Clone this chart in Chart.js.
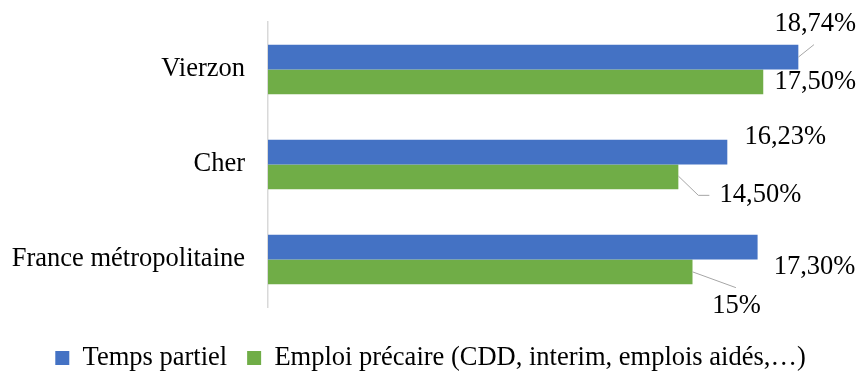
<!DOCTYPE html>
<html lang="fr">
<head>
<meta charset="utf-8">
<title>Temps partiel et emploi précaire</title>
<script src="https://cdn.jsdelivr.net/npm/chart.js@4/dist/chart.umd.min.js"></script>
<style>
  html, body { margin: 0; padding: 0; background: #ffffff; }
  #wrap { width: 861px; height: 372px; }
</style>
</head>
<body>
<div id="wrap"><canvas id="chart" width="861" height="372"></canvas></div>
<script>
// Territoires comparés
const territoires = ['Vierzon', 'Cher', 'France métropolitaine'];

// Part des emplois (%)
const tempsPartiel = [18.74, 16.23, 17.30];
const emploiPrecaire = [17.50, 14.50, 15];

const nomsSeries = ['Temps partiel', 'Emploi précaire (CDD, interim, emplois aidés,…)'];

const FONT = "'Liberation Serif', 'Times New Roman', serif";
const FONT_SIZE = 26.5;

// Placement of each value label relative to the end of its bar,
// with optional leader line points (same relative frame).
const labelLayout = [
  [
    { dx: 17, dy: -33, leader: [[0, 0], [15.6, -12.5]] },
    { dx: 58, dy: -15 },
    { dx: 57, dy: 19.5 }
  ],
  [
    { dx: 52, dy: 0.5 },
    { dx: 82, dy: 18.5, leader: [[0, -0.8], [20, 18.5], [31, 18.5]] },
    { dx: 44, dy: 34.5, leader: [[0, 0], [43.4, 15.8]] }
  ]
];

function formatPct(v) {
  const s = Number.isInteger(v) ? String(v) : v.toFixed(2);
  return s.replace('.', ',') + '%';
}

const valueLabels = {
  id: 'valueLabels',
  afterDatasetsDraw(chart) {
    const ctx = chart.ctx;
    ctx.save();
    chart.data.datasets.forEach((ds, di) => {
      const meta = chart.getDatasetMeta(di);
      meta.data.forEach((bar, i) => {
        const lay = labelLayout[di][i];
        const x0 = bar.x, y0 = bar.y;
        if (lay.leader) {
          ctx.beginPath();
          ctx.strokeStyle = '#a6a6a6';
          ctx.lineWidth = 1;
          lay.leader.forEach(([lx, ly], k) => {
            if (k === 0) ctx.moveTo(x0 + lx, y0 + ly);
            else ctx.lineTo(x0 + lx, y0 + ly);
          });
          ctx.stroke();
        }
        ctx.fillStyle = '#000000';
        ctx.font = FONT_SIZE + 'px ' + FONT;
        ctx.textAlign = 'center';
        ctx.textBaseline = 'middle';
        ctx.fillText(formatPct(ds.data[i]), x0 + lay.dx, y0 + lay.dy);
      });
    });
    ctx.restore();
  }
};

new Chart(document.getElementById('chart'), {
  type: 'bar',
  data: {
    labels: territoires,
    datasets: [
      {
        label: nomsSeries[0],
        data: tempsPartiel,
        backgroundColor: '#4472C4',
        categoryPercentage: 0.52,
        barPercentage: 1.0
      },
      {
        label: nomsSeries[1],
        data: emploiPrecaire,
        backgroundColor: '#70AD47',
        categoryPercentage: 0.52,
        barPercentage: 1.0
      }
    ]
  },
  options: {
    indexAxis: 'y',
    responsive: false,
    animation: false,
    devicePixelRatio: 1,
    layout: { padding: { top: 22, right: 0, bottom: -9.25, left: 0 } },
    scales: {
      x: {
        display: true,
        min: 0,
        max: 20,
        grid: { display: false, drawTicks: false },
        border: { display: false },
        ticks: { display: false },
        afterFit(scale) {
          // spacer between the plot and the legend, room on the right for labels
          scale.height = 17.75;
          scale.paddingLeft = 0;
          scale.paddingRight = 27;
        }
      },
      y: {
        grid: { display: false, drawTicks: false },
        border: { display: true, color: '#d9d9d9', width: 1.5 },
        ticks: {
          color: '#000000',
          padding: 23,
          font: { family: FONT, size: FONT_SIZE }
        },
        afterFit(scale) {
          scale.width = 268;
          scale.paddingTop = 0;
          scale.paddingBottom = 0;
        }
      }
    },
    plugins: {
      tooltip: { enabled: false },
      legend: {
        position: 'bottom',
        labels: {
          color: '#000000',
          boxWidth: 14,
          boxHeight: 14,
          padding: 20,
          font: { family: FONT, size: FONT_SIZE }
        }
      }
    }
  },
  plugins: [valueLabels]
});
</script>
</body>
</html>
